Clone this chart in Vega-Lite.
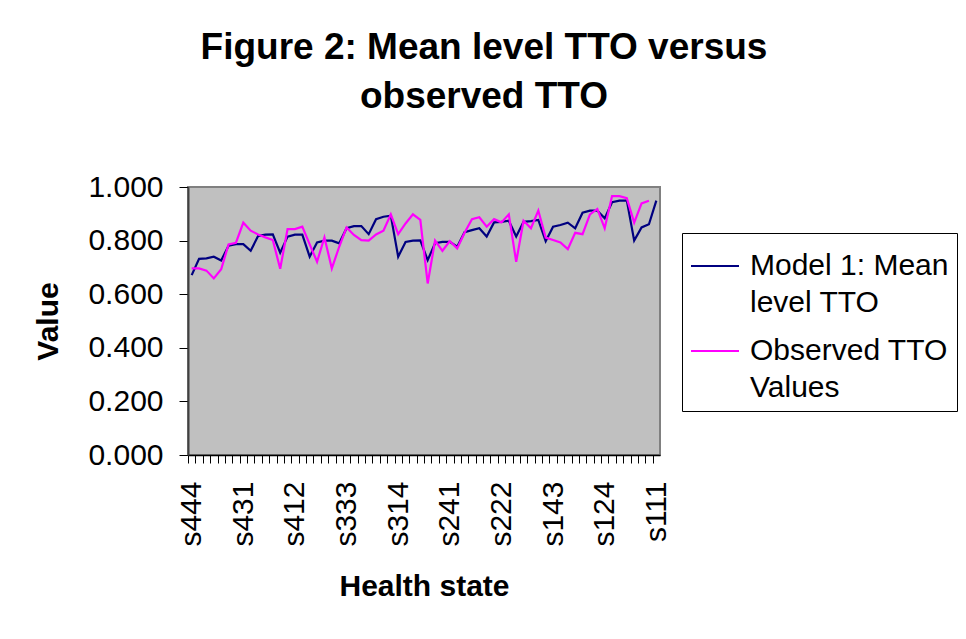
{
  "$schema": "https://vega.github.io/schema/vega-lite/v6.json",
  "autosize": {"type": "none"},
  "padding": {"left": 188, "top": 187, "right": 306, "bottom": 184},
  "width": 472,
  "height": 268,
  "background": "white",
  "config": {
    "font": "Liberation Sans",
    "view": {"fill": "#C0C0C0", "stroke": "#808080", "strokeWidth": 2},
    "axis": {"labelFont": "Liberation Sans", "titleFont": "Liberation Sans", "labelColor": "black", "titleColor": "black", "grid": false}
  },
  "title": {
    "text": ["Figure 2: Mean level TTO versus", "observed TTO"],
    "font": "Liberation Sans",
    "fontSize": 37,
    "fontWeight": "bold",
    "color": "black",
    "lineHeight": 49,
    "anchor": "middle",
    "frame": "group",
    "dx": 60,
    "offset": 56
  },
  "data": {
    "values": [
      {"state": "s444", "model": 0.671, "observed": 0.696},
      {"state": "s443", "model": 0.732, "observed": 0.696},
      {"state": "s442", "model": 0.734, "observed": 0.688},
      {"state": "s441", "model": 0.740, "observed": 0.659},
      {"state": "s434", "model": 0.726, "observed": 0.693},
      {"state": "s433", "model": 0.781, "observed": 0.786},
      {"state": "s432", "model": 0.787, "observed": 0.792},
      {"state": "s431", "model": 0.787, "observed": 0.867},
      {"state": "s424", "model": 0.762, "observed": 0.837},
      {"state": "s423", "model": 0.817, "observed": 0.823},
      {"state": "s422", "model": 0.822, "observed": 0.812},
      {"state": "s421", "model": 0.823, "observed": 0.802},
      {"state": "s414", "model": 0.755, "observed": 0.695},
      {"state": "s413", "model": 0.815, "observed": 0.843},
      {"state": "s412", "model": 0.822, "observed": 0.843},
      {"state": "s411", "model": 0.822, "observed": 0.852},
      {"state": "s344", "model": 0.740, "observed": 0.786},
      {"state": "s343", "model": 0.793, "observed": 0.721},
      {"state": "s342", "model": 0.800, "observed": 0.812},
      {"state": "s341", "model": 0.800, "observed": 0.696},
      {"state": "s334", "model": 0.790, "observed": 0.777},
      {"state": "s333", "model": 0.846, "observed": 0.849},
      {"state": "s332", "model": 0.854, "observed": 0.821},
      {"state": "s331", "model": 0.854, "observed": 0.802},
      {"state": "s324", "model": 0.824, "observed": 0.800},
      {"state": "s323", "model": 0.880, "observed": 0.823},
      {"state": "s322", "model": 0.889, "observed": 0.837},
      {"state": "s321", "model": 0.893, "observed": 0.898},
      {"state": "s314", "model": 0.740, "observed": 0.824},
      {"state": "s313", "model": 0.795, "observed": 0.864},
      {"state": "s312", "model": 0.800, "observed": 0.898},
      {"state": "s311", "model": 0.801, "observed": 0.877},
      {"state": "s244", "model": 0.727, "observed": 0.640},
      {"state": "s243", "model": 0.790, "observed": 0.800},
      {"state": "s242", "model": 0.795, "observed": 0.762},
      {"state": "s241", "model": 0.795, "observed": 0.798},
      {"state": "s234", "model": 0.777, "observed": 0.771},
      {"state": "s233", "model": 0.831, "observed": 0.829},
      {"state": "s232", "model": 0.839, "observed": 0.880},
      {"state": "s231", "model": 0.846, "observed": 0.887},
      {"state": "s224", "model": 0.815, "observed": 0.852},
      {"state": "s223", "model": 0.868, "observed": 0.880},
      {"state": "s222", "model": 0.870, "observed": 0.868},
      {"state": "s221", "model": 0.874, "observed": 0.898},
      {"state": "s214", "model": 0.815, "observed": 0.721},
      {"state": "s213", "model": 0.870, "observed": 0.874},
      {"state": "s212", "model": 0.873, "observed": 0.846},
      {"state": "s211", "model": 0.877, "observed": 0.912},
      {"state": "s144", "model": 0.798, "observed": 0.811},
      {"state": "s143", "model": 0.852, "observed": 0.802},
      {"state": "s142", "model": 0.858, "observed": 0.793},
      {"state": "s141", "model": 0.867, "observed": 0.768},
      {"state": "s134", "model": 0.846, "observed": 0.829},
      {"state": "s133", "model": 0.904, "observed": 0.824},
      {"state": "s132", "model": 0.912, "observed": 0.898},
      {"state": "s131", "model": 0.912, "observed": 0.918},
      {"state": "s124", "model": 0.883, "observed": 0.846},
      {"state": "s123", "model": 0.943, "observed": 0.966},
      {"state": "s122", "model": 0.949, "observed": 0.966},
      {"state": "s121", "model": 0.949, "observed": 0.958},
      {"state": "s114", "model": 0.800, "observed": 0.867},
      {"state": "s113", "model": 0.849, "observed": 0.939},
      {"state": "s112", "model": 0.861, "observed": 0.949},
      {"state": "s111", "model": 0.949, "observed": null}
    ]
  },
  "transform": [{"fold": ["model", "observed"], "as": ["series", "value"]}],
  "mark": {"type": "line", "strokeWidth": 2.2},
  "encoding": {
    "x": {
      "field": "state",
      "type": "nominal",
      "sort": null,
      "scale": {"type": "point", "padding": 0.5},
      "axis": {
        "title": "Health state",
        "titleFontSize": 30,
        "titleFontWeight": "bold",
        "titlePadding": 25,
        "labelAngle": 270,
        "labelFontSize": 30,
        "labelPadding": 18,
        "labelOverlap": false,
        "labelFlush": false,
        "tickSize": 8,
        "tickColor": "black",
        "domainColor": "black",
        "domainWidth": 1.5,
        "tickOffset": -3.6875,
        "labelOffset": 3.6875,
        "labelExpr": "indexof(['s444','s431','s412','s333','s314','s241','s222','s143','s124','s111'], datum.value) >= 0 ? datum.value : ''"
      }
    },
    "y": {
      "field": "value",
      "type": "quantitative",
      "scale": {"domain": [0, 1], "nice": false},
      "axis": {
        "title": "Value",
        "titleFontSize": 30,
        "titleFontWeight": "bold",
        "titlePadding": 24,
        "values": [0, 0.2, 0.4, 0.6, 0.8, 1],
        "format": ".3f",
        "labelFontSize": 30,
        "labelPadding": 16,
        "labelFlush": false,
        "tickSize": 9,
        "tickColor": "black",
        "domainColor": "#404040",
        "domainWidth": 2
      }
    },
    "color": {
      "field": "series",
      "type": "nominal",
      "scale": {"domain": ["model", "observed"], "range": ["#000080", "#FF00FF"]},
      "legend": {
        "title": null,
        "orient": "none",
        "legendX": 494,
        "legendY": 46,
        "direction": "vertical",
        "strokeColor": "black",
        "fillColor": "white",
        "padding": 8,
        "symbolType": "stroke",
        "symbolSize": 2304,
        "symbolStrokeWidth": 2,
        "labelFont": "Liberation Sans",
        "labelFontSize": 30,
        "labelColor": "black",
        "labelLimit": 400,
        "labelOffset": 10,
        "labelBaseline": "middle",
        "rowPadding": 8,
        "labelExpr": "datum.value == 'model' ? ['Model 1: Mean', 'level TTO'] : ['Observed TTO', 'Values']",
        "encode": {"labels": {"update": {"lineHeight": {"value": 37}}}}
      }
    }
  }
}
